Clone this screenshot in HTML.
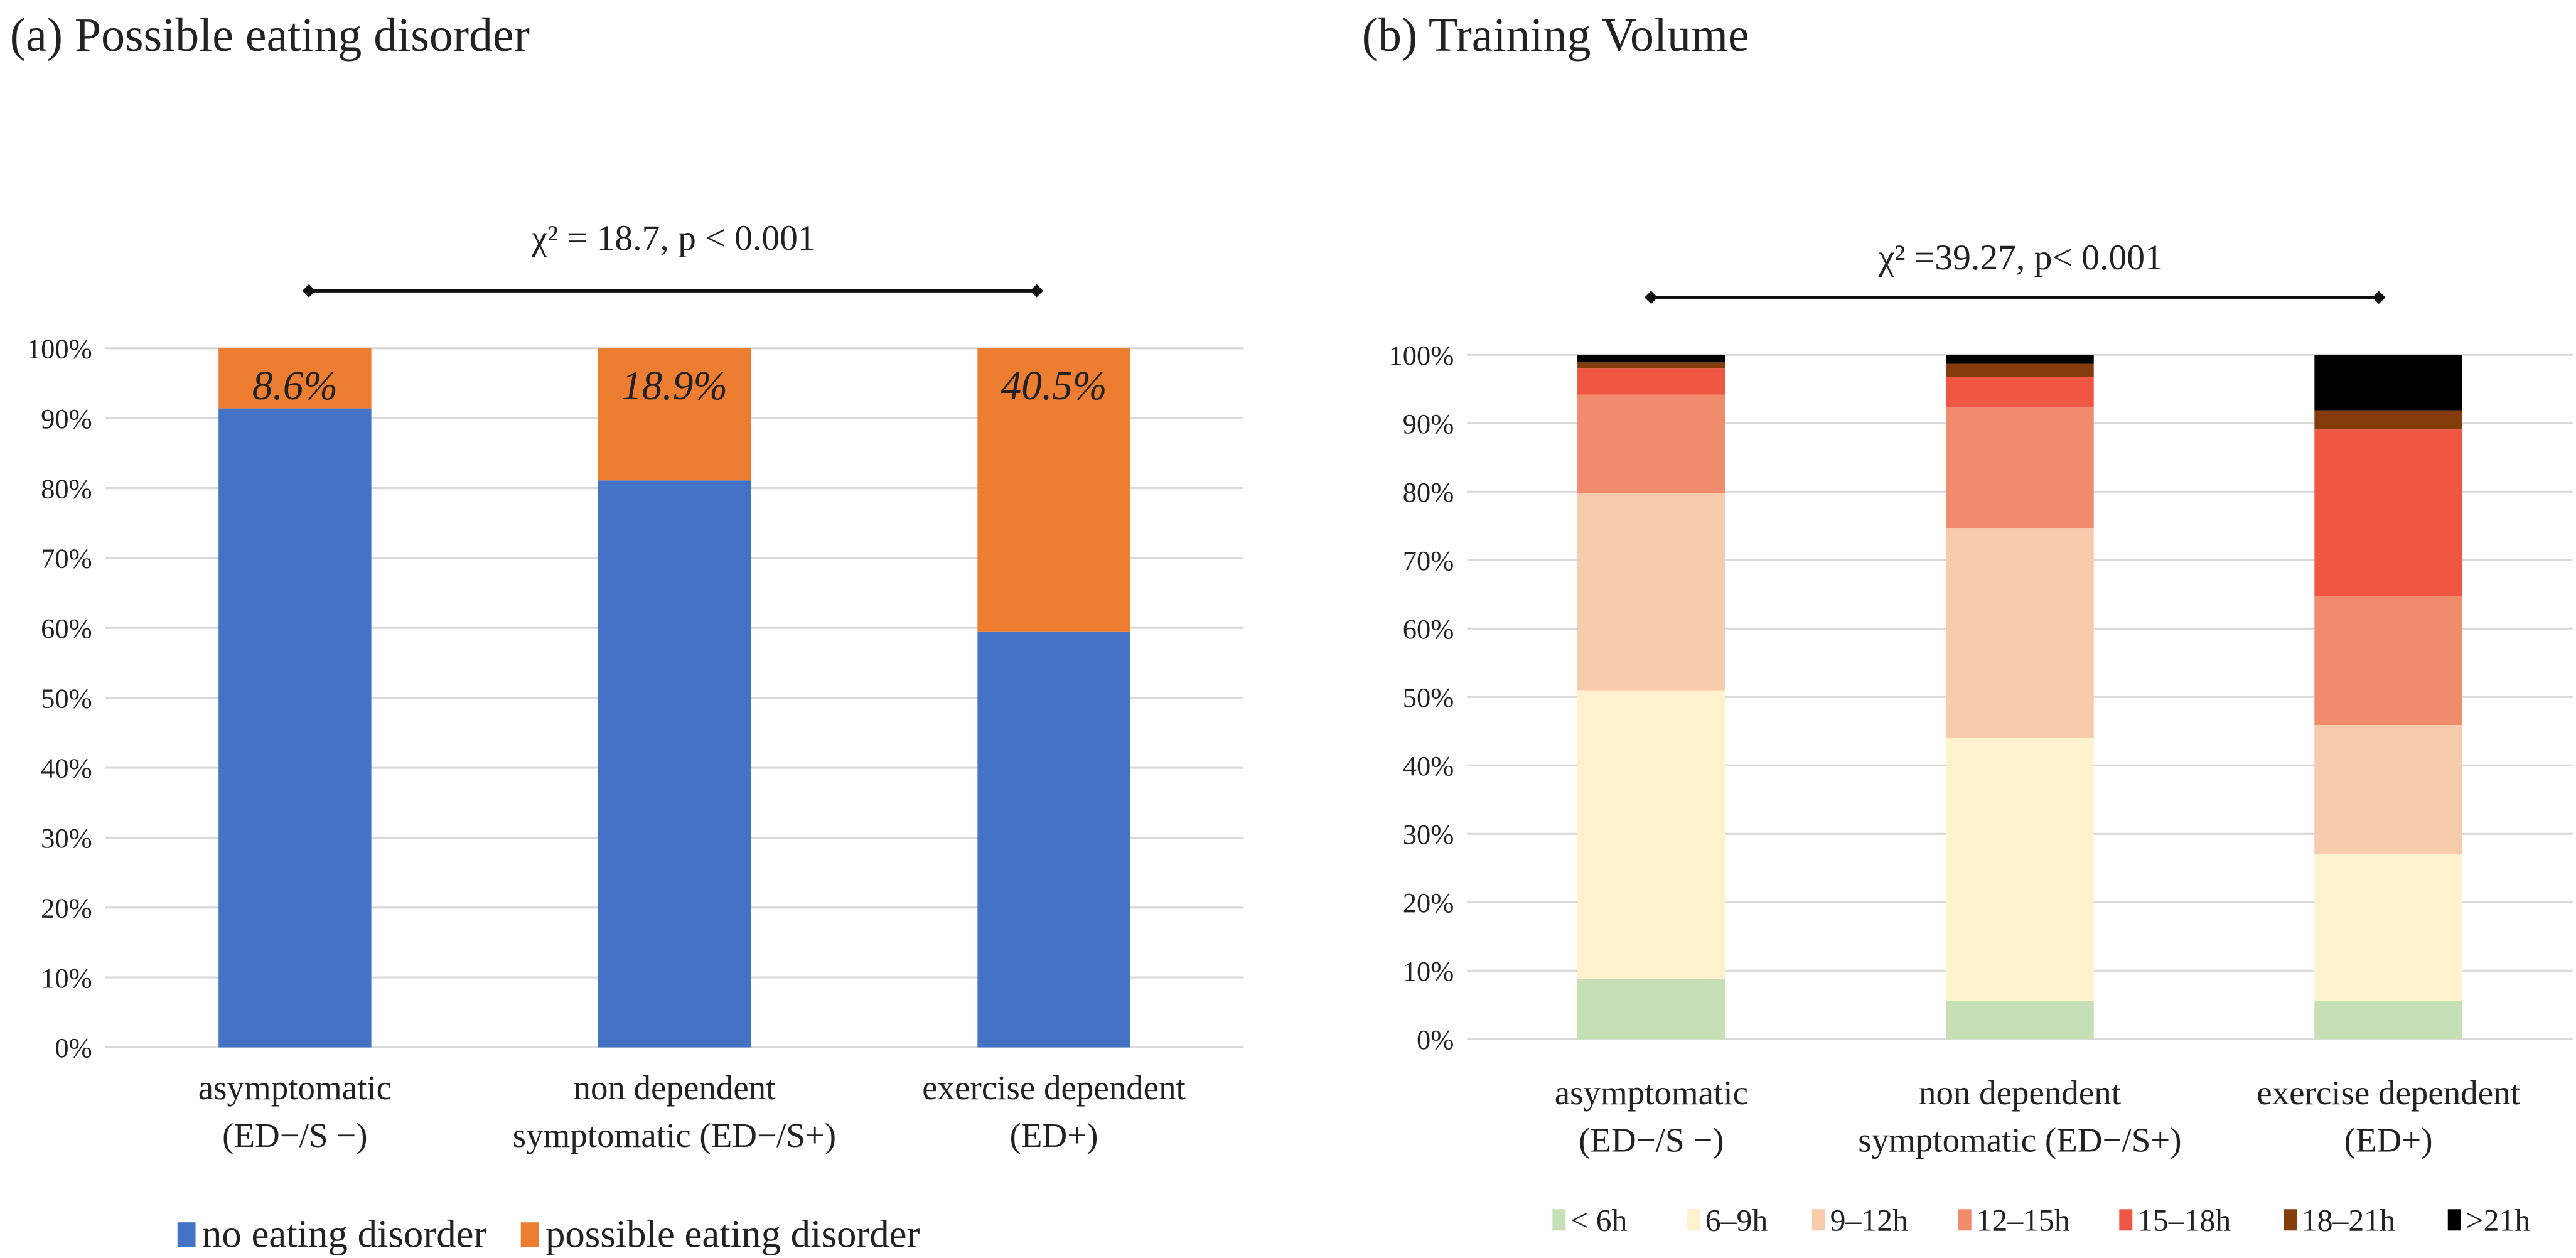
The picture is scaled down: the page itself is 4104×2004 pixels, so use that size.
<!DOCTYPE html>
<html><head><meta charset="utf-8"><style>
html,body{margin:0;padding:0;background:#fff;}
svg{display:block;}
text{font-family:"Liberation Serif",serif;fill:#222;}
</style></head><body>
<svg id="fig" xmlns="http://www.w3.org/2000/svg" width="4104" height="2004" viewBox="0 0 1568 765.7">
<rect width="1568" height="765.7" fill="#fff"/>
<text x="6" y="31" font-size="29">(a) Possible eating disorder</text>
<text x="829" y="31" font-size="29">(b) Training Volume</text>
<text x="410" y="152" font-size="22" text-anchor="middle">χ² = 18.7, p &lt; 0.001</text>
<g>
<line x1="188" y1="177" x2="631" y2="177" stroke="#111" stroke-width="2"/>
<path d="M184,177 l4,-4 l4,4 l-4,4z M627,177 l4,-4 l4,4 l-4,4z" fill="#111"/>
</g>
<text x="1230" y="164" font-size="22" text-anchor="middle">χ² =39.27, p&lt; 0.001</text>
<g>
<line x1="1005" y1="181" x2="1448" y2="181" stroke="#111" stroke-width="2"/>
<path d="M1001,181 l4,-4 l4,4 l-4,4z M1444,181 l4,-4 l4,4 l-4,4z" fill="#111"/>
</g>
<g id="chartA"></g>
<g id="chartB"></g>
</svg>
<script>
const ticks = ["0%","10%","20%","30%","40%","50%","60%","70%","80%","90%","100%"];
const tickValues = [0,10,20,30,40,50,60,70,80,90,100];
const catLine1 = ["asymptomatic","non dependent","exercise dependent"];
const catLine2 = ["(ED−/S −)","symptomatic (ED−/S+)","(ED+)"];
const aSeriesNames = ["no eating disorder","possible eating disorder"];
const aNoED = [91.4, 81.1, 59.5];
const aPossibleED = [8.6, 18.9, 40.5];
const aLabels = ["8.6%","18.9%","40.5%"];
const bSeriesNames = ["< 6h","6–9h","9–12h","12–15h","15–18h","18–21h",">21h"];
const bLt6 = [8.8, 5.6, 5.6];
const b6to9 = [42.2, 38.4, 21.5];
const b9to12 = [28.8, 30.7, 18.8];
const b12to15 = [14.4, 17.6, 18.9];
const b15to18 = [3.8, 4.5, 24.3];
const b18to21 = [0.9, 1.9, 2.8];
const bGt21 = [1.1, 1.3, 8.1];

const NS = "http://www.w3.org/2000/svg";
function mk(parent, tag, attrs, txt){
  const e = document.createElementNS(NS, tag);
  for (const k in attrs) e.setAttribute(k, attrs[k]);
  if (txt !== undefined) e.textContent = txt;
  parent.appendChild(e); return e;
}
function drawChart(g, cfg, series, colors, names, keyPrefix){
  const y = v => cfg.y0 - (v/100)*(cfg.y0 - cfg.y100);
  const step = (cfg.gx1 - cfg.gx0)/3;
  const cx = i => cfg.gx0 + step*(i+0.5);
  tickValues.forEach((t,i)=>{
    const ln = mk(g,"line",{x1:cfg.gx0,x2:cfg.gx1,y1:y(t),y2:y(t),stroke:"#d9d9d9","stroke-width":1.2});
    
    
    const tx = mk(g,"text",{x:cfg.gx0-8,y:y(t)+6,"font-size":17,"text-anchor":"end",fill:"#444"},ticks[i]);
    
    
  });
  for (let i=0;i<3;i++){
    let base = 0;
    series.forEach((s,k)=>{
      const r = mk(g,"rect",{x:cx(i)-cfg.bw/2,y:y(base+s[i]),width:cfg.bw,height:y(base)-y(base+s[i]),fill:colors[k]});
      
      
      base += s[i];
    });
    const l1 = mk(g,"text",{x:cx(i),y:cfg.ly1,"font-size":21,"text-anchor":"middle"},catLine1[i]);
    
    
    const l2 = mk(g,"text",{x:cx(i),y:cfg.ly1+29,"font-size":21,"text-anchor":"middle"},catLine2[i]);
    
    
  }
  return {y,cx};
}
const gA = document.getElementById("chartA");
const A = drawChart(gA,{gx0:64,gx1:757,y0:637.5,y100:212,bw:93,ly1:669},[aNoED,aPossibleED],["#4472c4","#ed7d31"],aSeriesNames,"a");
aLabels.forEach((lab,i)=>{
  const t = mk(gA,"text",{x:A.cx(i),y:A.y(100)+31,"font-size":25,"font-style":"italic","text-anchor":"middle",fill:"#595959"},lab);
  
  
});
const legA = [[108,"#4472c4"],[317,"#ed7d31"]];
legA.forEach((p,k)=>{
  const r = mk(gA,"rect",{x:p[0],y:744,width:11,height:15,fill:p[1]});
  
  
  const t = mk(gA,"text",{x:p[0]+15,y:759,"font-size":24},aSeriesNames[k]);
  
  
});
const gB = document.getElementById("chartB");
const bColors = ["#c5e0b4","#fff2cc","#f8cbad","#f08c6c","#ef5744","#843c0c","#000000"];
drawChart(gB,{gx0:893,gx1:1566,y0:632.5,y100:216,bw:90,ly1:672},[bLt6,b6to9,b9to12,b12to15,b15to18,b18to21,bGt21],bColors,bSeriesNames,"b");
const legBx = [945,1027,1103,1192,1290,1390,1490];
bSeriesNames.forEach((n,k)=>{
  const r = mk(gB,"rect",{x:legBx[k],y:736,width:8,height:13,fill:bColors[k]});
  
  
  const t = mk(gB,"text",{x:legBx[k]+11,y:749,"font-size":19},n);
  
  
});
</script>
</body></html>
